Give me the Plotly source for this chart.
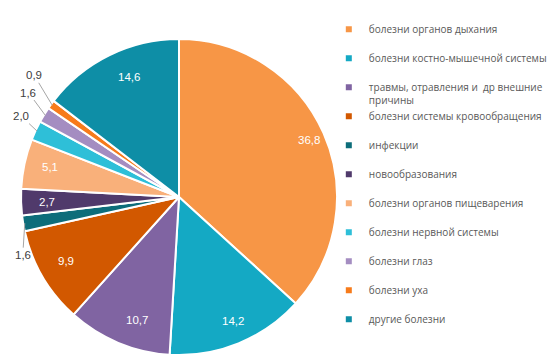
import math
import plotly.graph_objects as go

categories = [
    "болезни органов дыхания",
    "болезни костно-мышечной системы",
    "травмы, отравления и  др внешние причины",
    "болезни системы кровообращения",
    "инфекции",
    "новообразования",
    "болезни органов пищеварения",
    "болезни нервной системы",
    "болезни глаз",
    "болезни уха",
    "другие болезни",
]
values = [36.8, 14.2, 10.7, 9.9, 1.6, 2.7, 5.1, 2.0, 1.6, 0.9, 14.6]
legend_labels = [
    "болезни органов дыхания<br> ",
    "болезни костно-мышечной системы<br> ",
    "травмы, отравления и\u00a0 др внешние<br>причины",
    "болезни системы кровообращения<br> ",
    "инфекции<br> ",
    "новообразования<br> ",
    "болезни органов пищеварения<br> ",
    "болезни нервной системы<br> ",
    "болезни глаз<br> ",
    "болезни уха<br> ",
    "другие болезни<br> ",
]

# style
colors = ["#F79646", "#14A9C4", "#8064A2", "#D25800", "#0D6D7A", "#503A6B",
          "#F9B07A", "#2EBFD8", "#A48DC1", "#F77B1B", "#0E8EA6"]
# label offsets (px) for labels drawn outside the pie with leader lines; None = inside
outside_offsets = [None, None, None, None, (-2, 32), None,
                   None, (-16, -15), (-17, -23), (-18, -30), None]

W, H = 556, 362
dom_x = [13 / W, 329 / W]
dom_y = [1 - 347 / H, 1 - 31 / H]

fig = go.Figure()
fig.add_trace(go.Pie(
    labels=categories,
    values=values,
    sort=False,
    direction="clockwise",
    rotation=0,
    marker=dict(colors=colors, line=dict(color="white", width=2)),
    textinfo="none",
    showlegend=False,
    hoverinfo="label+value",
    domain=dict(x=dom_x, y=dom_y),
))

# data labels placed along each slice's mid-angle
cx = (dom_x[0] + dom_x[1]) / 2
cy = (dom_y[0] + dom_y[1]) / 2
R = min((dom_x[1] - dom_x[0]) * W, (dom_y[1] - dom_y[0]) * H) / 2
total = sum(values)
cum = 0.0
for v, off in zip(values, outside_offsets):
    mid = (cum + v / 2) / total * 2 * math.pi
    cum += v
    txt = f"{v:.1f}".replace(".", ",")
    if off is None:
        r = 0.9 * R
        fig.add_annotation(
            x=cx + r * math.sin(mid) / W, y=cy + r * math.cos(mid) / H,
            xref="paper", yref="paper", text=txt, showarrow=False,
            font=dict(family="Liberation Sans", size=11.5, color="white"),
        )
    else:
        r = 0.99 * R
        fig.add_annotation(
            x=cx + r * math.sin(mid) / W, y=cy + r * math.cos(mid) / H,
            xref="paper", yref="paper", text=txt, showarrow=True,
            ax=off[0], ay=off[1], arrowhead=0, arrowwidth=1,
            arrowcolor="#A6A6A6", standoff=0, startstandoff=0,
            font=dict(family="Liberation Sans", size=11.5, color="#404040"),
        )

for lab, col in zip(legend_labels, colors):
    fig.add_trace(go.Scatter(
        x=[None], y=[None], mode="markers", name=lab,
        marker=dict(symbol="square", size=6, color=col),
        showlegend=True,
    ))

fig.update_layout(
    width=W, height=H,
    margin=dict(l=0, r=0, t=0, b=0),
    paper_bgcolor="white", plot_bgcolor="white",
    xaxis=dict(visible=False), yaxis=dict(visible=False),
    legend=dict(
        x=0.577, y=0.977, xanchor="left", yanchor="top",
        valign="top",
        font=dict(family="Open Sans", size=10, color="#595959"),
        bgcolor="rgba(0,0,0,0)",
        itemclick=False, itemdoubleclick=False,
    ),
)

fig.write_html("out.html")
